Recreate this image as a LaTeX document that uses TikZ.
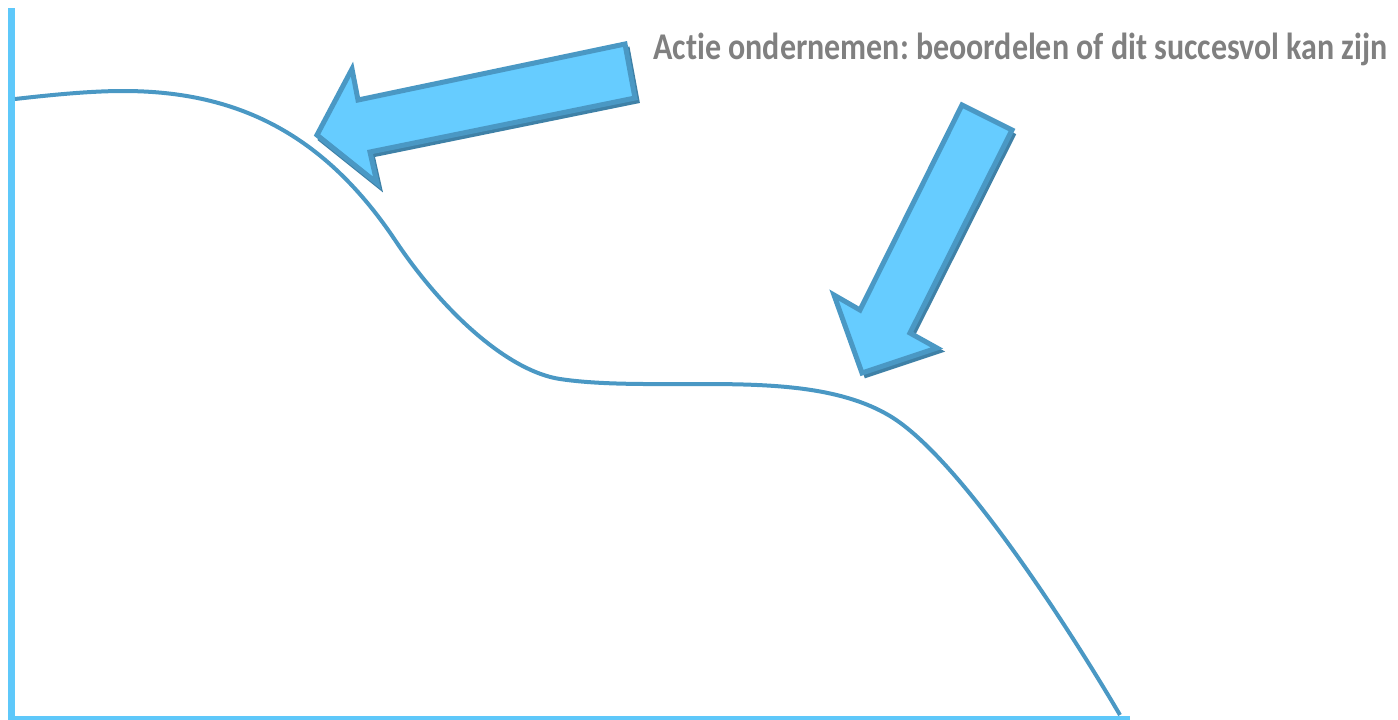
\documentclass[tikz,border=0pt]{standalone}
\usepackage{fontspec}
\setmainfont{Carlito}[Ligatures=CommonOff]
\definecolor{axisblue}{RGB}{94,200,250}
\definecolor{arrowfill}{RGB}{102,204,255}
\definecolor{curveblue}{RGB}{74,152,196}
\definecolor{textgray}{RGB}{128,128,128}
\frenchspacing

\begin{document}
\begin{tikzpicture}[x=0.5pt, y=-0.5pt,
			axis/.style={axisblue, line width=3.5pt},
			curve/.style={curveblue, line width=2pt, line join=round},
			bigarrow/.style={fill=arrowfill, draw=curveblue, line width=2.5pt, line join=miter},
			shade/.style={draw=curveblue!85!black, line width=2.5pt, line join=miter},
			label/.style={anchor=base west, inner sep=0pt, textgray, font=\fontsize{16}{19}\selectfont\bfseries}]
	\useasboundingbox (0,0) rectangle (1398,719);
	\draw[axis] (11,8) -- (11,719.5);
	\draw[axis] (8,719.5) -- (1130,719.5);
	\draw[curve] (15,99) .. controls (50,95) and (90,91) .. (123,91)
		.. controls (230,91) and (320,128) .. (395,240)
		.. controls (445,315) and (510,371.5) .. (560,379)
		.. controls (600,385) and (650,384) .. (700,384)
		.. controls (770,384) and (840,386) .. (890,416)
		.. controls (960,458) and (1070,630) .. (1120,715);
	\draw[shade] (627,47) -- (637,101) -- (372,155) -- (379,186) -- (319,138);
	\draw[bigarrow] (625,44) -- (635,98) -- (370,152) -- (377,183) -- (317,135)
		-- (352,69) -- (358,100) -- cycle;
	\draw[shade] (1014,133) -- (912,336) -- (939,351) -- (864,376);
	\draw[bigarrow] (962,105) -- (1012,130) -- (910,333) -- (937,348) -- (862,373)
		-- (834,295) -- (860,310) -- cycle;
	\node[label] (actie) at (653,59.3) {\scalebox{1}[1.18]{Actie ondernemen: beoordelen of dit succesvol kan zijn}};
\end{tikzpicture}
\end{document}
